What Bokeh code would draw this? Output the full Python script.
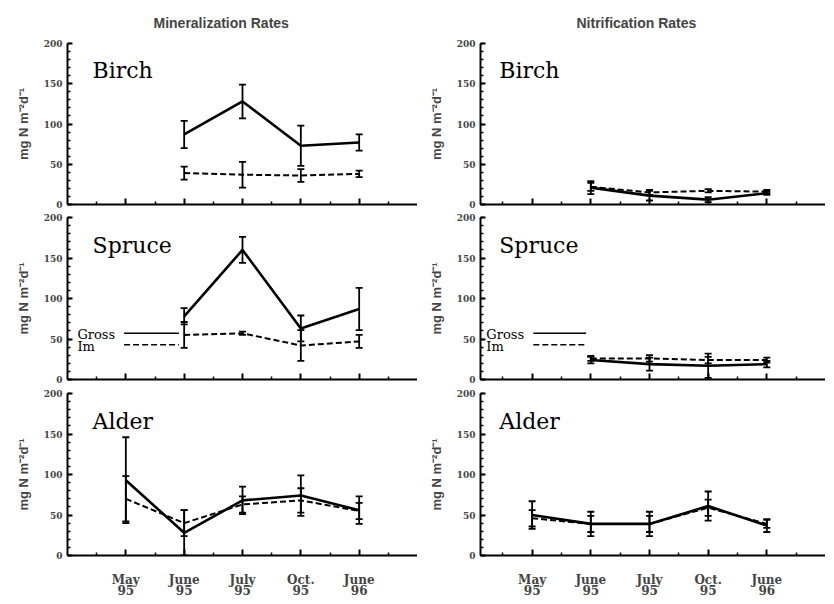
import numpy as np
from bokeh.plotting import figure
from bokeh.models import (Range1d, FixedTicker, ColumnDataSource, Whisker,
                          TeeHead, CustomJSTickFormatter)
from bokeh.layouts import column, row
from bokeh.core.properties import value
from bokeh.embed import file_html
from bokeh.resources import INLINE

nan = float("nan")

# ---- categories / ticks ----
months = ["May\n95", "June\n95", "July\n95", "Oct.\n95", "June\n96"]
month_idx = [1, 2, 3, 4, 5]
y_ticks = [0, 50, 100, 150, 200]
y_label = "mg N m\u207b\u00b2d\u207b\u00b9"
col_titles = ["Mineralization Rates", "Nitrification Rates"]
stands = ["Birch", "Spruce", "Alder"]
series_names = ["Gross", "Im"]

# ---- Mineralization (gross, immobilization) with error ----
min_birch_gross = [nan, 87, 128, 73, 77]
min_birch_gross_err = [nan, 17, 21, 25, 10]
min_birch_im = [nan, 39, 37, 36, 38]
min_birch_im_err = [nan, 8, 16, 8, 4]

min_spruce_gross = [nan, 78, 160, 63, 87]
min_spruce_gross_err = [nan, 10, 16, 16, 26]
min_spruce_im = [nan, 55, 57, 42, 47]
min_spruce_im_err = [nan, 16, 2, 19, 8]

min_alder_gross = [93, 28, 68, 74, 56]
min_alder_gross_err = [53, 28, 17, 25, 17]
min_alder_im = [70, 40, 63, 68, 55]
min_alder_im_err = [28, 16, 10, 15, 10]

# ---- Nitrification ----
nit_birch_gross = [nan, 21, 11, 6, 14]
nit_birch_gross_err = [nan, 8, 6, 3, 2]
nit_birch_im = [nan, 22, 15, 17, 16]
nit_birch_im_err = [nan, 5, 3, 2, 2]

nit_spruce_gross = [nan, 24, 19, 17, 19]
nit_spruce_gross_err = [nan, 4, 8, 15, 4]
nit_spruce_im = [nan, 26, 26, 24, 24]
nit_spruce_im_err = [nan, 3, 4, 4, 3]

nit_alder_gross = [50, 39, 39, 61, 37]
nit_alder_gross_err = [17, 15, 15, 18, 8]
nit_alder_im = [46, 39, 39, 59, 39]
nit_alder_im_err = [10, 10, 10, 10, 5]

SERIF = "DejaVu Serif"
SANS = "Liberation Sans"


def err_source(vals, errs):
    x = np.array(month_idx, dtype=float)
    v = np.array(vals, dtype=float)
    e = np.array(errs, dtype=float)
    ok = ~np.isnan(v)
    return ColumnDataSource(dict(x=x[ok], upper=(v + e)[ok], lower=(v - e)[ok]))


def make_panel(rowi, coli, name, gross, gross_err, im, im_err, legend=False):
    width = 417 if coli == 0 else 408
    bl = 67 if coli == 0 else 63
    x_start = 0 if coli == 0 else 0.12
    if rowi == 0:
        height, bt, bb = 210, 42, 6
    elif rowi == 1:
        height, bt, bb = 175, 7, 6
    else:
        height, bt, bb = 216, 8, 46
    p = figure(width=width, height=height, output_backend="svg",
               toolbar_location=None, x_range=Range1d(x_start, 6),
               y_range=Range1d(0, 200), min_border_left=bl,
               min_border_right=0, min_border_top=bt, min_border_bottom=bb,
               title=col_titles[coli] if rowi == 0 else None)
    p.outline_line_color = None
    p.grid.visible = False
    p.background_fill_color = "white"
    p.border_fill_color = "white"
    if rowi == 0:
        p.title.text_font = SANS
        p.title.text_font_style = "bold"
        p.title.text_font_size = "14px"
        p.title.align = "left"
        p.title.offset = 86 if coli == 0 else 96
        p.title.standoff = 25

    # y axis
    ya = p.yaxis[0]
    ya.ticker = FixedTicker(ticks=y_ticks, minor_ticks=list(range(0, 201, 10)))
    ya.major_tick_in = 5
    ya.major_tick_out = 0
    ya.minor_tick_in = 3
    ya.minor_tick_out = 0
    ya.axis_line_width = 2
    ya.major_tick_line_width = 2
    ya.minor_tick_line_width = 1.5
    ya.major_label_text_font = SERIF
    ya.major_label_text_font_style = "bold"
    ya.major_label_text_font_size = "9px"
    ya.major_label_standoff = 5
    ya.axis_label = y_label
    ya.axis_label_text_font = SANS
    ya.axis_label_text_font_style = "bold"
    ya.axis_label_text_font_size = "13px"
    ya.axis_label_standoff = 10

    # x axis
    xa = p.xaxis[0]
    xa.ticker = FixedTicker(ticks=month_idx,
                            minor_ticks=[0.5, 1.5, 2.5, 3.5, 4.5, 5.5])
    xa.major_tick_in = 6
    xa.major_tick_out = 0
    xa.minor_tick_in = 3
    xa.minor_tick_out = 0
    xa.axis_line_width = 2
    xa.major_tick_line_width = 2
    xa.minor_tick_line_width = 1.5
    if rowi == 2:
        xa.major_label_overrides = {i: m for i, m in zip(month_idx, months)}
        xa.major_label_text_font = SERIF
        xa.major_label_text_font_style = "bold"
        xa.major_label_text_font_size = "12px"
        xa.major_label_text_line_height = 0.8
        xa.major_label_standoff = 17
    else:
        xa.formatter = CustomJSTickFormatter(code="return ''")
        xa.major_label_standoff = 0

    # series
    p.line(month_idx, gross, line_color="black", line_width=2.6)
    p.line(month_idx, im, line_color="black", line_width=2,
           line_dash="6 3")
    for vals, errs in ((gross, gross_err), (im, im_err)):
        p.add_layout(Whisker(source=err_source(vals, errs), base="x",
                             upper="upper", lower="lower",
                             line_color="black", line_width=1.8,
                             upper_head=TeeHead(size=7, line_width=1.8),
                             lower_head=TeeHead(size=7, line_width=1.8)))

    # stand name
    nx = 0.43 if coli == 0 else 0.44
    p.text(x=[nx], y=[166], text=[name], text_font=value(SERIF),
           text_font_size="22px", text_baseline="alphabetic",
           text_color="black")

    if legend:
        lx = 0.17 if coli == 0 else 0.22
        x0, x1 = (0.97, 1.91) if coli == 0 else (1.02, 1.92)
        p.text(x=[lx, lx], y=[55, 41], text=series_names,
               text_font=value(SERIF), text_font_size="13px",
               text_baseline="alphabetic", text_color="black",
               text_line_height=1.0)
        p.line([x0, x1], [57, 57], line_color="black", line_width=1.5)
        p.line([x0, x1], [43, 43], line_color="black", line_width=1.5,
               line_dash="6 3")
    return p


left = [
    make_panel(0, 0, stands[0], min_birch_gross, min_birch_gross_err,
               min_birch_im, min_birch_im_err),
    make_panel(1, 0, stands[1], min_spruce_gross, min_spruce_gross_err,
               min_spruce_im, min_spruce_im_err, legend=True),
    make_panel(2, 0, stands[2], min_alder_gross, min_alder_gross_err,
               min_alder_im, min_alder_im_err),
]
right = [
    make_panel(0, 1, stands[0], nit_birch_gross, nit_birch_gross_err,
               nit_birch_im, nit_birch_im_err),
    make_panel(1, 1, stands[1], nit_spruce_gross, nit_spruce_gross_err,
               nit_spruce_im, nit_spruce_im_err, legend=True),
    make_panel(2, 1, stands[2], nit_alder_gross, nit_alder_gross_err,
               nit_alder_im, nit_alder_im_err),
]

layout = column(*[row(l, r, spacing=0) for l, r in zip(left, right)],
                spacing=0)

open("out.html", "w").write(file_html(layout, INLINE))
